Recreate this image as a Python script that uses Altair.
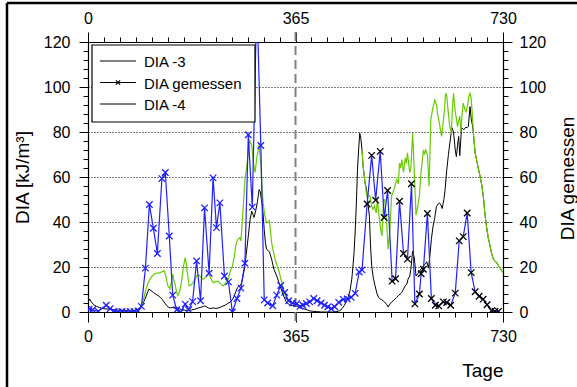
import altair as alt
import pandas as pd

# ---------------- data ----------------
black_days = [0, 3, 6, 10, 15, 20, 27, 35, 45, 55,
              65, 75, 82, 87, 91, 95, 99, 103, 107, 111,
              115, 120, 124, 127, 131, 134, 138, 141, 145, 148,
              152, 155, 160, 165, 170, 175, 182, 188, 194, 200,
              205, 209, 214, 220, 225, 230, 236, 241, 246, 250,
              254, 257, 260, 263, 266, 269, 272, 275, 278, 282,
              285, 288, 290, 292, 295, 298, 301, 303, 305, 307,
              310, 312, 314, 317, 319, 323, 327, 332, 336, 340,
              344, 349, 355, 361, 367, 373, 379, 385, 390, 396,
              402, 410, 420, 430, 438, 443, 447, 451, 455, 458,
              461, 464, 466, 468, 470, 472, 474, 476, 478, 480,
              482, 484, 487, 490, 493, 495, 497, 499, 502, 505,
              508, 511, 514, 516, 519, 522, 525, 528, 531, 534,
              537, 540, 543, 546, 549, 552, 555, 558, 561, 563,
              566, 568, 571, 574, 577, 580, 583, 587, 590, 593,
              596, 599, 602, 604, 607, 610, 613, 616, 618, 621,
              623, 626, 628, 631, 634, 637, 640, 643, 646, 648,
              650, 652, 654, 657, 661, 664, 667, 669, 672, 674,
              677, 679, 681, 684, 687, 690, 693, 696, 698, 701,
              704, 706, 710, 713, 716, 719, 722, 725, 728, 730]
black_vals = [4.3, 5.7, 4.5, 3.2, 2.5, 2.0, 1.5, 1.3, 1.0, 0.8,
              0.6, 0.5, 0.6, 1.0, 1.8, 3.0, 5.0, 7.5, 10.2, 9.5,
              8.7, 7.8, 7.2, 6.5, 5.5, 4.4, 3.0, 2.2, 1.8, 2.0,
              1.8, 2.2, 1.5, 1.0, 0.8, 0.7, 0.9, 1.2, 1.8, 2.2,
              2.7, 2.2, 1.5, 1.8, 1.6, 1.8, 2.5, 3.0, 3.8, 4.4,
              5.5, 7.0, 9.0, 10.8, 11.6, 12.0, 15.0, 19.0, 25.0, 33.8,
              41.0, 44.8, 43.5, 42.0, 45.0, 49.0, 54.4, 53.5, 50.0, 47.0,
              36.7, 31.0, 27.9, 27.2, 26.8, 23.5, 19.0, 16.0, 13.0, 10.0,
              7.2, 4.3, 3.1, 2.8, 2.7, 2.0, 1.5, 1.0, 0.5, 0.3,
              0.2, 0.0, 0.0, 0.0, 0.2, 0.6, 1.5, 3.0, 5.0, 7.0,
              9.5, 14.6, 20.0, 26.4, 36.0, 48.0, 63.0, 72.0, 79.5, 77.0,
              72.0, 64.7, 58.0, 54.4, 47.0, 42.6, 29.3, 20.5, 15.0, 11.6,
              8.5, 6.5, 5.8, 5.6, 5.0, 4.4, 3.5, 2.2, 3.5, 4.4,
              5.0, 5.8, 6.5, 7.2, 8.0, 8.7, 10.2, 11.6, 12.5, 14.6,
              16.0, 19.0, 27.0, 24.0, 16.0, 17.0, 18.0, 19.5, 20.5, 21.2,
              22.3, 19.5, 26.4, 32.3, 38.2, 42.0, 47.0, 48.0, 48.5, 47.5,
              46.0, 50.0, 54.0, 63.0, 70.0, 76.0, 82.0, 80.0, 72.0, 69.0,
              74.0, 78.0, 69.5, 82.0, 81.0, 82.0, 82.0, 82.4, 91.3, 86.0,
              82.0, 76.0, 70.7, 67.0, 63.3, 60.0, 55.9, 50.0, 44.0, 38.0,
              33.0, 30.8, 26.0, 23.5, 22.5, 22.0, 20.5, 19.5, 18.3, 17.5]

green1_days = [91, 95, 99, 101, 105, 109, 113, 117, 122, 127,
               131, 134, 137, 140, 144, 147, 149, 151, 153, 156,
               158, 161, 163, 166, 168, 171, 173, 175, 178, 181,
               185, 188, 191, 194, 197, 200, 203, 207, 212, 216,
               220, 225, 229, 233, 238, 242, 247, 250, 254, 257,
               259, 261, 264, 267, 269, 272, 274, 276, 278, 280,
               282, 284, 286, 288, 291, 294, 297, 299, 301, 304,
               306, 308, 311, 314, 317, 319, 321, 323, 326, 329,
               332, 335, 338, 341, 344, 347, 350, 352, 357, 361, 367]
green1_vals = [1.8, 3.5, 7.0, 9.4, 12.5, 14.6, 16.0, 17.0, 17.3, 17.5,
               18.0, 18.3, 16.0, 12.0, 10.2, 14.0, 16.8, 14.0, 12.5, 8.7,
               7.4, 9.0, 11.2, 16.0, 20.5, 24.2, 21.0, 17.0, 11.6, 12.0,
               13.0, 14.5, 16.0, 16.5, 16.0, 15.0, 14.6, 15.5, 17.0, 15.0,
               13.0, 13.5, 13.7, 12.5, 11.6, 13.0, 14.6, 18.0, 20.5, 24.0,
               28.0, 30.8, 32.3, 33.0, 31.6, 42.6, 50.0, 58.8, 62.0, 66.2,
               72.0, 76.5, 75.0, 74.3, 66.2, 62.0, 69.0, 71.0, 74.3, 66.2,
               56.0, 48.5, 43.0, 39.7, 40.0, 40.5, 36.0, 30.8, 27.0, 23.5,
               21.0, 19.0, 16.0, 13.1, 10.0, 7.2, 5.8, 5.0, 4.5, 4.0, 3.4]

green2_days = [482, 484, 487, 490, 493, 496, 499, 501, 504, 507,
               509, 511, 514, 517, 520, 522, 525, 528, 531, 534,
               538, 540, 543, 546, 548, 550, 552, 555, 558, 560,
               562, 564, 566, 568, 571, 573, 575, 577, 580, 583,
               585, 587, 590, 592, 594, 597, 600, 603, 606, 610,
               613, 615, 618, 622, 625, 627, 629, 631, 634, 636,
               639, 641, 643, 646, 648, 650, 652, 654, 656, 658,
               660, 663, 665, 668, 670, 672, 674, 676, 678, 681,
               684, 687, 690, 693, 696, 698, 701, 704, 706, 710,
               713, 716, 719, 722, 725, 728, 730]
green2_vals = [72.0, 64.7, 58.0, 52.0, 51.5, 51.5, 47.0, 45.6, 47.0, 44.0,
               50.0, 45.0, 38.2, 33.8, 50.0, 50.0, 41.0, 27.9, 36.7, 51.5,
               54.4, 55.9, 58.8, 57.0, 66.2, 64.0, 67.7, 62.0, 68.5, 66.0,
               70.7, 66.0, 62.0, 64.0, 79.5, 68.0, 55.9, 43.0, 47.0, 51.5,
               60.0, 64.7, 72.0, 70.0, 72.0, 70.0, 55.9, 85.4, 90.0, 94.2,
               92.0, 88.0, 84.0, 78.0, 85.0, 89.8, 97.2, 96.0, 88.0, 83.0,
               79.5, 90.0, 97.2, 89.0, 86.0, 82.4, 85.0, 87.0, 80.0, 88.0,
               92.8, 90.0, 89.0, 92.0, 96.0, 97.2, 95.0, 88.0, 79.5, 70.7,
               67.0, 63.3, 60.0, 55.9, 50.0, 44.0, 38.0, 33.0, 30.8, 26.0,
               23.5, 22.5, 22.0, 20.5, 19.5, 18.3, 17.5]

meas_days = [2, 8, 18, 32, 39, 46, 53, 60, 67, 74,
             81, 88, 94, 101, 108, 115, 122, 130, 136, 143,
             149, 156, 163, 171, 177, 184, 191, 198, 205, 213,
             220, 226, 232, 240, 247, 254, 262, 269, 276, 282,
             289, 297, 304, 310, 316, 325, 332, 339, 346, 353,
             360, 367, 373, 378, 384, 390, 397, 403, 410, 416,
             422, 428, 434, 441, 449, 456, 463, 470, 477, 482,
             491, 499, 506, 514, 521, 527, 535, 541, 548, 555,
             562, 569, 575, 583, 586, 590, 597, 604, 611, 617,
             625, 631, 638, 646, 653, 660, 667, 674, 681, 688,
             695, 702, 710, 716, 722]
meas_vals = [1.3, 1.0, 0.3, 3.0, 1.5, 0.3, 0.0, 0.2, 0.0, 0.1,
             0.3, 0.5, 2.5, 19.5, 47.8, 37.2, 26.0, 59.3, 62.0, 33.8,
             7.5, 1.0, 0.0, 3.5, 1.0, 4.6, 22.7, 5.0, 46.3, 17.2,
             59.6, 37.5, 48.5, 16.0, 13.4, 0.0, 6.0, 10.6, 21.7, 78.8,
             46.6, 140.0, 74.0, 5.4, 4.0, 2.8, 7.5, 11.8, 8.7, 5.0,
             4.0, 3.7, 2.5, 3.0, 3.8, 4.5, 6.0, 5.0, 4.0, 3.0,
             2.3, 1.5, 2.3, 4.3, 5.6, 5.8, 6.5, 8.3, 17.8, 18.7,
             48.0, 69.6, 49.7, 71.4, 42.0, 54.0, 13.7, 14.8, 49.2, 26.0,
             23.5, 57.0, 3.6, 8.0, 17.0, 19.0, 43.8, 6.0, 3.0, 2.7,
             4.5, 4.2, 3.0, 8.4, 31.6, 33.5, 44.0, 17.5, 9.0, 7.0,
             5.7, 3.2, 0.6, 0.3, 0.3]

divider_day = [365]
legend_labels = ["DIA -3", "DIA gemessen", "DIA -4"]
x_title = "Tage"
y_title = "DIA [kJ/m³]"
y2_title = "DIA gemessen"

# ---------------- tables ----------------
df_black = pd.DataFrame({"day": black_days, "val": black_vals})
df_green = pd.concat([
    pd.DataFrame({"day": green1_days, "val": green1_vals, "seg": "a"}),
    pd.DataFrame({"day": green2_days, "val": green2_vals, "seg": "b"}),
])
df_meas = pd.DataFrame({"day": meas_days, "val": meas_vals})
df_meas["mk"] = ["k" if d >= 488 else "b" for d in meas_days]
df_div = pd.DataFrame({"day": divider_day})
df_one = pd.DataFrame({"d": [0]})

# ---------------- layout / style ----------------
W, H = 415, 270
TOP, LEFT = 42, 88
FONT = "Liberation Sans"
XT = [i * 365 / 13 for i in range(27)]
YT = list(range(0, 121, 4))
xscale = alt.Scale(domain=[0, 730], nice=False, zero=False)
yscale = alt.Scale(domain=[0, 120], nice=False)
XM = "datum.value % 365 == 0"
YM = "datum.value % 20 == 0"

common = dict(labelFont=FONT, labelFontSize=16, labelColor="black",
              tickColor="black", domainColor="black", domainWidth=1.2,
              tickWidth=1, labelOverlap=False, labelFlush=False,
              titleFont=FONT, titleFontSize=19, titleFontWeight="normal",
              titleColor="black")


def x_axis(orient, **kw):
    return alt.Axis(orient=orient, values=XT, grid=False,
                    labelExpr=f"{XM} ? format(datum.value, 'd') : ''",
                    tickSize={"condition": {"test": XM, "value": 10}, "value": 5},
                    labelPadding=6, **common, **kw)


def y_axis(orient, pad, **kw):
    return alt.Axis(orient=orient, values=YT,
                    labelExpr=f"{YM} ? format(datum.value, 'd') : ''",
                    tickSize={"condition": {"test": YM, "value": 9}, "value": 5},
                    labelPadding=pad, **common, **kw)


bottom_axis = x_axis("bottom", titleX=W, titleY=64, titleAlign="right",
                     titleBaseline="alphabetic")
top_axis = x_axis("top")
left_axis = y_axis("left", 9, grid=True, gridColor="black", gridDash=[1, 2],
                   gridWidth=1,
                   gridOpacity={"condition": {"test": "datum.value % 20 == 0 && datum.value > 0 && datum.value < 120", "value": 1}, "value": 0},
                   titleAngle=270, titleX=-60, titleY=H / 2, titleAlign="center",
                   titleBaseline="alphabetic")
right_axis = y_axis("right", 7, grid=False, titleAngle=270, titleX=70, titleY=H / 2 + 1,
                    titleAlign="center", titleBaseline="alphabetic")

divider = alt.Chart(df_div).mark_rule(color="#808080", strokeDash=[9, 5], strokeWidth=2).encode(
    x=alt.X("day:Q", scale=xscale, axis=None),
    y=alt.value(-10), y2=alt.value(H + 11))

black = alt.Chart(df_black).mark_line(color="black", strokeWidth=1, clip=True).encode(
    x=alt.X("day:Q", scale=xscale, axis=bottom_axis, title=x_title),
    y=alt.Y("val:Q", scale=yscale, axis=left_axis, title=y_title))

green = alt.Chart(df_green).mark_line(color="#66cc00", strokeWidth=1.2, clip=True).encode(
    x=alt.X("day:Q", scale=xscale, axis=top_axis, title=None),
    y=alt.Y("val:Q", scale=yscale, axis=right_axis, title=y2_title),
    detail="seg:N")

blue = alt.Chart(df_meas).mark_line(color="#2020ff", strokeWidth=1.2, clip=True).encode(
    x=alt.X("day:Q", scale=xscale, axis=None),
    y=alt.Y("val:Q", scale=yscale, axis=None))

XSHAPE = "M-1,-1L1,1M-1,1L1,-1"
marks = alt.Chart(df_meas).mark_point(shape=XSHAPE, filled=False, size=42, strokeWidth=1.3,
                                      opacity=1, clip=True).encode(
    x=alt.X("day:Q", scale=xscale, axis=None),
    y=alt.Y("val:Q", scale=yscale, axis=None),
    color=alt.Color("mk:N", scale=alt.Scale(domain=["b", "k"], range=["#2020ff", "#000000"]),
                    legend=None))

# legend box
leg_box = alt.Chart(df_one).mark_rect(fill="white", stroke="black", strokeWidth=1.2).encode(
    x=alt.value(4), x2=alt.value(167), y=alt.value(3), y2=alt.value(80))
leg_layers = [leg_box]
for i, lab in enumerate(legend_labels):
    yy = 19 + 21.5 * i
    leg_layers.append(alt.Chart(df_one).mark_rule(color="black", strokeWidth=1).encode(
        x=alt.value(12), x2=alt.value(48), y=alt.value(yy)))
    leg_layers.append(alt.Chart(df_one).mark_text(
        text=lab, font=FONT, fontSize=15, align="left", baseline="middle", color="black").encode(
        x=alt.value(56), y=alt.value(yy + 1)))
leg_layers.append(alt.Chart(df_one).mark_point(shape=XSHAPE, filled=False, size=18, strokeWidth=1.2,
                                               color="black", opacity=1).encode(
    x=alt.value(30), y=alt.value(19 + 21.5)))

# outer frame (top and left edges)
frame_top = alt.Chart(df_one).mark_rule(color="black", strokeWidth=2.5).encode(
    x=alt.value(7 - LEFT), x2=alt.value(577 - LEFT), y=alt.value(3 - TOP))
frame_left = alt.Chart(df_one).mark_rule(color="black", strokeWidth=2.5).encode(
    x=alt.value(7 - LEFT), y=alt.value(3 - TOP), y2=alt.value(387 - TOP))

chart = alt.layer(divider, black, green, blue, marks, *leg_layers, frame_top, frame_left).resolve_axis(
    x="independent", y="independent"
).properties(
    width=W, height=H,
    autosize=alt.AutoSizeParams(type="none"),
    padding={"left": LEFT, "top": TOP, "right": 577 - LEFT - W, "bottom": 387 - TOP - H},
    background="white",
).configure_view(stroke=None)

chart.save("out.html", embed_options={"renderer": "svg", "actions": False})
